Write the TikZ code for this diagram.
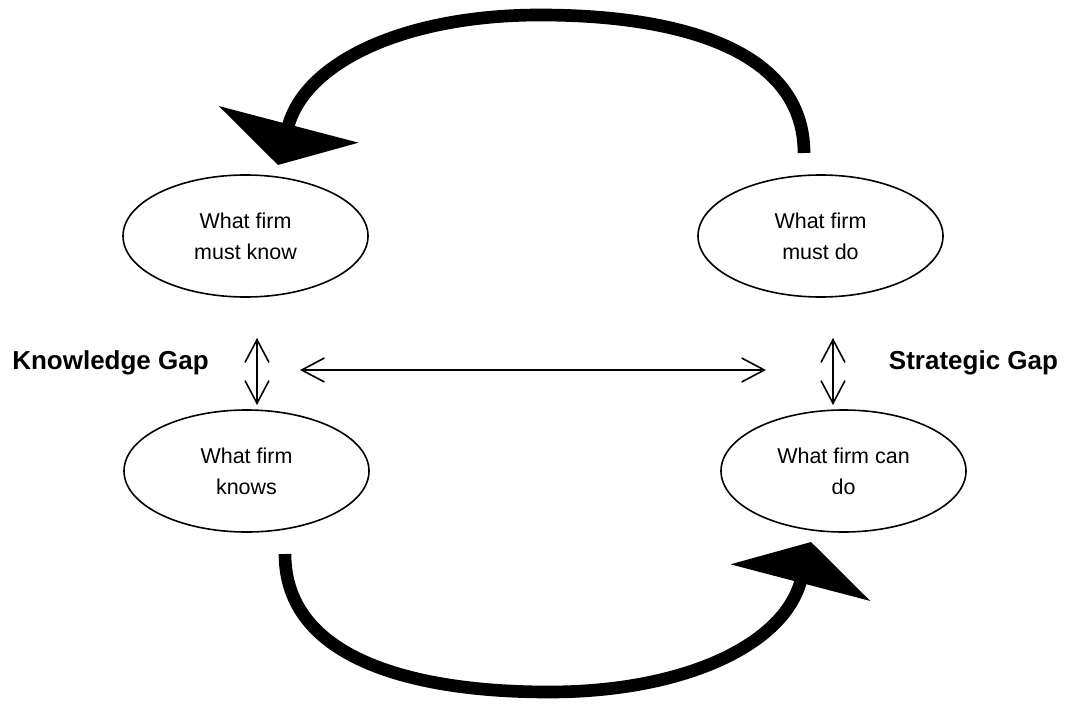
\documentclass[tikz,border=0pt]{standalone}
\usepackage{fontspec}
\setmainfont{Liberation Sans}
\usetikzlibrary{arrows.meta,shapes.geometric}

\tikzset{
  firm/.style={ellipse,draw,line width=1.2pt,minimum width=183.75pt,minimum height=91.5pt,
    inner sep=0pt,align=center,font=\fontsize{16.1}{23}\selectfont},
  gaplabel/.style={font=\fontsize{19.5}{23}\selectfont\bfseries},
  gaparrow/.style={line width=1.2pt,
    {Straight Barb[length=17pt,width=18pt]}-{Straight Barb[length=17pt,width=18pt]}},
  cyclearrow/.style={line width=9.5pt,-{Triangle[length=31.5pt,width=107pt]}}
}

\begin{document}
\begin{tikzpicture}[x=0.75pt,y=-0.75pt]
            \useasboundingbox (0,0) rectangle (1070,706);

            % the four ellipses
            \node[firm] (mustknow) at (245.5,236){What firm\\must know};
            \node[firm] (mustdo) at (820.5,236){What firm\\must do};
            \node[firm] (knows) at (246.5,471){What firm\\knows};
            \node[firm] (cando) at (843.5,471){What firm can\\do};

            \node[gaplabel] (kgap) at (110.5,363){Knowledge Gap};
            \node[gaplabel] (sgap) at (973.5,363){Strategic Gap};

            \coordinate (kup) at (257,338);
            \coordinate (kdown) at (257,405);
            \coordinate (sup) at (833,338);
            \coordinate (sdown) at (833,405);
            \coordinate (midleft) at (300,370);
            \coordinate (midright) at (766,370);

            \draw[gaparrow] (kup) -- (kdown);
            \draw[gaparrow] (sup) -- (sdown);
            \draw[gaparrow] (midleft) -- (midright);

            % big loop, top and bottom
            \coordinate (toptail) at (804,153);
            \coordinate (toptip) at (278,165);
            \coordinate (bottail) at (285,554);
            \coordinate (bottip) at (811,542);

            \draw[cyclearrow] (toptail) .. controls (804,50) and (680,15) .. (540,15)
                .. controls (405,15) and (305,62) .. (toptip);
            \draw[cyclearrow] (bottail) .. controls (285,657) and (409,692) .. (549,692)
                .. controls (684,692) and (784,645) .. (bottip);
          \end{tikzpicture}
\end{document}
